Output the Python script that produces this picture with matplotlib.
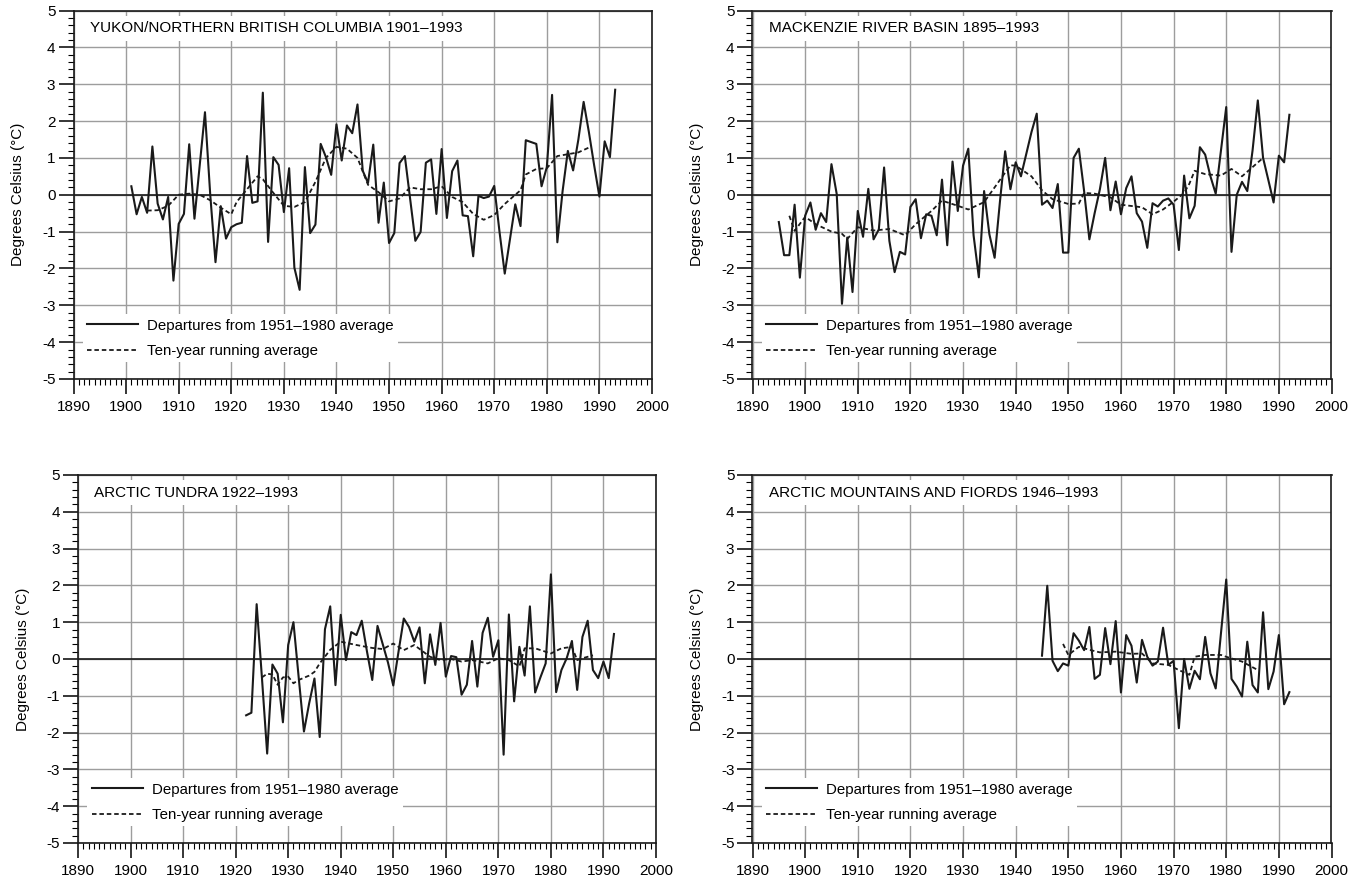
import matplotlib
matplotlib.use("Agg")
import matplotlib.pyplot as plt
from matplotlib.ticker import MultipleLocator

plt.rcParams["font.family"] = ["Liberation Sans", "DejaVu Sans"]
plt.rcParams["axes.unicode_minus"] = False

# ---- data ----
titles = ["YUKON/NORTHERN BRITISH COLUMBIA 1901–1993",
          "MACKENZIE RIVER BASIN 1895–1993",
          "ARCTIC TUNDRA 1922–1993",
          "ARCTIC MOUNTAINS AND FIORDS 1946–1993"]

yukon_years = list(range(1901, 1994))
yukon_dep = [0.23, -0.53, -0.06, -0.49, 1.31, -0.24, -0.67, -0.06, -2.33, -0.79,
             -0.52, 1.37, -0.65, 0.8, 2.24, 0.0, -1.83, -0.31, -1.19, -0.88,
             -0.8, -0.76, 1.05, -0.22, -0.18, 2.77, -1.28, 1.02, 0.81, -0.47,
             0.72, -1.98, -2.58, 0.75, -1.04, -0.81, 1.38, 1.02, 0.54, 1.91,
             0.93, 1.88, 1.67, 2.45, 0.65, 0.32, 1.36, -0.76, 0.33, -1.31,
             -1.04, 0.86, 1.05, -0.1, -1.25, -1.01, 0.87, 0.96, -0.52, 1.24,
             -0.63, 0.64, 0.93, -0.56, -0.58, -1.67, -0.03, -0.09, -0.05, 0.24,
             -1.0, -2.14, -1.2, -0.26, -0.85, 1.48, 1.43, 1.38, 0.23, 0.75,
             2.71, -1.29, 0.1, 1.19, 0.66, 1.5, 2.52, 1.7, 0.8, -0.05,
             1.45, 1.02, 2.85]
yukon_avg_years = [1904, 1906, 1908, 1910, 1912, 1914, 1916, 1918, 1920, 1921,
                   1923, 1925, 1926, 1928, 1930, 1932, 1934, 1936, 1938, 1940,
                   1942, 1944, 1946, 1948, 1950, 1952, 1954, 1956, 1958, 1960,
                   1962, 1964, 1966, 1968, 1970, 1972, 1974, 1975, 1976, 1978,
                   1980, 1982, 1984, 1986, 1988]
yukon_avg = [-0.43, -0.42, -0.3, 0.0, 0.03, 0.0, -0.15, -0.35, -0.53, -0.2,
             0.15, 0.5, 0.42, 0.05, -0.3, -0.33, -0.2, 0.35, 1.0, 1.3,
             1.25, 1.0, 0.27, 0.07, -0.18, -0.1, 0.2, 0.15, 0.15, 0.23,
             -0.06, -0.2, -0.52, -0.68, -0.55, -0.25, 0.0, 0.12, 0.55, 0.7,
             0.72, 1.05, 1.1, 1.15, 1.28]

mack_years = list(range(1895, 1993))
mack_dep = [-0.74, -1.64, -1.64, -0.27, -2.25, -0.57, -0.21, -0.95, -0.5, -0.74,
            0.83, 0.02, -2.96, -1.16, -2.64, -0.44, -1.14, 0.16, -1.21, -0.94,
            0.74, -1.25, -2.1, -1.55, -1.62, -0.33, -0.12, -1.18, -0.53, -0.57,
            -1.1, 0.41, -1.37, 0.9, -0.44, 0.79, 1.25, -1.1, -2.24, 0.1,
            -1.07, -1.71, -0.2, 1.18, 0.15, 0.88, 0.5, 1.1, 1.7, 2.2,
            -0.27, -0.16, -0.36, 0.29, -1.57, -1.57, 1.0, 1.25, 0.1, -1.21,
            -0.5, 0.15, 1.0, -0.42, 0.36, -0.53, 0.18, 0.5, -0.5, -0.73,
            -1.44, -0.23, -0.32, -0.16, -0.1, -0.27, -1.5, 0.52, -0.64, -0.3,
            1.29, 1.09, 0.5, 0.03, 1.2, 2.38, -1.55, 0.0, 0.35, 0.1,
            1.2, 2.56, 1.0, 0.4, -0.21, 1.06, 0.88, 2.17]
mack_avg_years = [1897, 1898, 1900, 1902, 1905, 1907, 1908, 1910, 1913, 1916,
                  1919, 1921, 1924, 1926, 1929, 1931, 1934, 1936, 1939, 1940,
                  1943, 1945, 1947, 1950, 1952, 1953, 1955, 1958, 1960, 1964,
                  1966, 1968, 1970, 1972, 1973, 1974, 1976, 1979, 1981, 1983,
                  1985, 1987]
mack_avg = [-0.57, -0.98, -0.6, -0.8, -1.0, -1.06, -1.2, -0.88, -0.97, -0.93,
            -1.1, -0.8, -0.44, -0.16, -0.3, -0.4, -0.2, 0.2, 0.8, 0.79,
            0.5, 0.12, -0.12, -0.25, -0.24, 0.05, 0.03, -0.07, -0.27, -0.34,
            -0.53, -0.4, -0.19, 0.05, 0.3, 0.65, 0.56, 0.52, 0.7, 0.5,
            0.75, 1.0]

tundra_years = list(range(1922, 1993))
tundra_dep = [-1.53, -1.46, 1.49, -0.5, -2.57, -0.15, -0.4, -1.72, 0.38, 1.0,
              -0.5, -1.97, -1.2, -0.53, -2.12, 0.81, 1.43, -0.71, 1.2, -0.03,
              0.73, 0.65, 1.04, 0.2, -0.57, 0.9, 0.4, -0.1, -0.72, 0.2,
              1.1, 0.87, 0.47, 0.86, -0.66, 0.67, -0.16, 0.98, -0.48, 0.08,
              0.05, -0.97, -0.7, 0.49, -0.75, 0.71, 1.12, 0.06, 0.51, -2.6,
              1.21, -1.15, 0.33, -0.45, 1.43, -0.91, -0.5, -0.12, 2.3, -0.9,
              -0.3, 0.02, 0.49, -0.84, 0.6, 1.04, -0.3, -0.52, -0.07, -0.52,
              0.68]
tundra_avg_years = [1925, 1926, 1927, 1928, 1929, 1930, 1931, 1932, 1934, 1935,
                    1936, 1938, 1940, 1943, 1946, 1948, 1950, 1952, 1954, 1957,
                    1959, 1961, 1963, 1965, 1968, 1970, 1972, 1974, 1975, 1977,
                    1980, 1982, 1984, 1985, 1986, 1988]
tundra_avg = [-0.5, -0.4, -0.42, -0.7, -0.5, -0.48, -0.66, -0.57, -0.45, -0.35,
              -0.12, 0.25, 0.47, 0.38, 0.3, 0.27, 0.42, 0.24, 0.38, 0.06,
              -0.03, 0.0, -0.07, -0.03, -0.12, 0.02, -0.03, -0.2, 0.29, 0.29,
              0.15, 0.29, 0.33, -0.03, 0.02, 0.1]

fiords_years = list(range(1945, 1993))
fiords_dep = [0.09, 1.99, -0.05, -0.33, -0.12, -0.18, 0.7, 0.5, 0.24, 0.87,
              -0.54, -0.43, 0.84, -0.14, 1.03, -0.91, 0.65, 0.36, -0.64, 0.52,
              0.06, -0.18, -0.07, 0.85, -0.16, -0.05, -1.88, 0.0, -0.81, -0.32,
              -0.55, 0.6, -0.39, -0.8, 0.7, 2.16, -0.54, -0.75, -1.02, 0.47,
              -0.71, -0.91, 1.27, -0.82, -0.34, 0.65, -1.23, -0.9]
fiords_avg_years = [1949, 1950, 1952, 1954, 1956, 1959, 1962, 1964, 1966, 1969,
                    1971, 1973, 1974, 1976, 1979, 1980, 1983, 1986]
fiords_avg = [0.41, 0.11, 0.33, 0.25, 0.18, 0.2, 0.14, 0.15, -0.12, -0.16,
              -0.3, -0.43, 0.06, 0.11, 0.11, 0.06, -0.07, -0.3]

panels = [
    (titles[0], yukon_years, yukon_dep, yukon_avg_years, yukon_avg),
    (titles[1], mack_years, mack_dep, mack_avg_years, mack_avg),
    (titles[2], tundra_years, tundra_dep, tundra_avg_years, tundra_avg),
    (titles[3], fiords_years, fiords_dep, fiords_avg_years, fiords_avg),
]

# ---- layout (pixel boxes: left, top, right, bottom) ----
W, H = 1364, 882
boxes = [(73.5, 10.5, 652, 379), (752.5, 10.5, 1331.5, 379),
         (78, 475, 656, 843), (752.5, 475, 1331.5, 843)]

fig = plt.figure(figsize=(W / 100, H / 100), dpi=100)

for (title, yrs, dep, ayrs, avg), (l, t, r, b) in zip(panels, boxes):
    ax = fig.add_axes([l / W, 1 - b / H, (r - l) / W, (b - t) / H])
    ax.set_xlim(1890, 2000)
    ax.set_ylim(-5, 5)
    ax.xaxis.set_major_locator(MultipleLocator(10))
    ax.xaxis.set_minor_locator(MultipleLocator(1))
    ax.yaxis.set_major_locator(MultipleLocator(1))
    ax.yaxis.set_minor_locator(MultipleLocator(0.2))
    ax.tick_params(which="major", direction="out", length=11, width=1.1,
                   labelsize=11, pad=2)
    ax.tick_params(which="minor", direction="out", length=4.5, width=0.8)
    ax.tick_params(axis="x", which="major", pad=4)
    ax.grid(which="major", color="#9d9d9d", lw=1.0)
    ax.set_axisbelow(True)
    for s in ax.spines.values():
        s.set_linewidth(1.2)
        s.set_color("#1a1a1a")

    ax.axhline(0, color="#1a1a1a", lw=1.2, zorder=2)
    ax.plot(yrs, dep, color="#1a1a1a", lw=1.5, zorder=3,
            label="Departures from 1951–1980 average")
    ax.plot(ayrs, avg, color="#1a1a1a", lw=1.3, ls=(0, (2.5, 1.6)), zorder=3,
            label="Ten-year running average")

    ax.text(0.028, 0.952, title, transform=ax.transAxes, ha="left", va="center",
            fontsize=11, zorder=5,
            bbox=dict(facecolor="white", edgecolor="none", pad=4))
    ax.legend(loc="lower left", bbox_to_anchor=(0.016, 0.045), borderaxespad=0,
              frameon=True, fancybox=False, edgecolor="none", framealpha=1,
              fontsize=10.8, handlelength=3.4, handletextpad=0.6,
              labelspacing=0.75, borderpad=0.3)
    ax.set_ylabel("Degrees Celsius (°C)", fontsize=11, labelpad=12)

fig.savefig("out.png", dpi=100)
